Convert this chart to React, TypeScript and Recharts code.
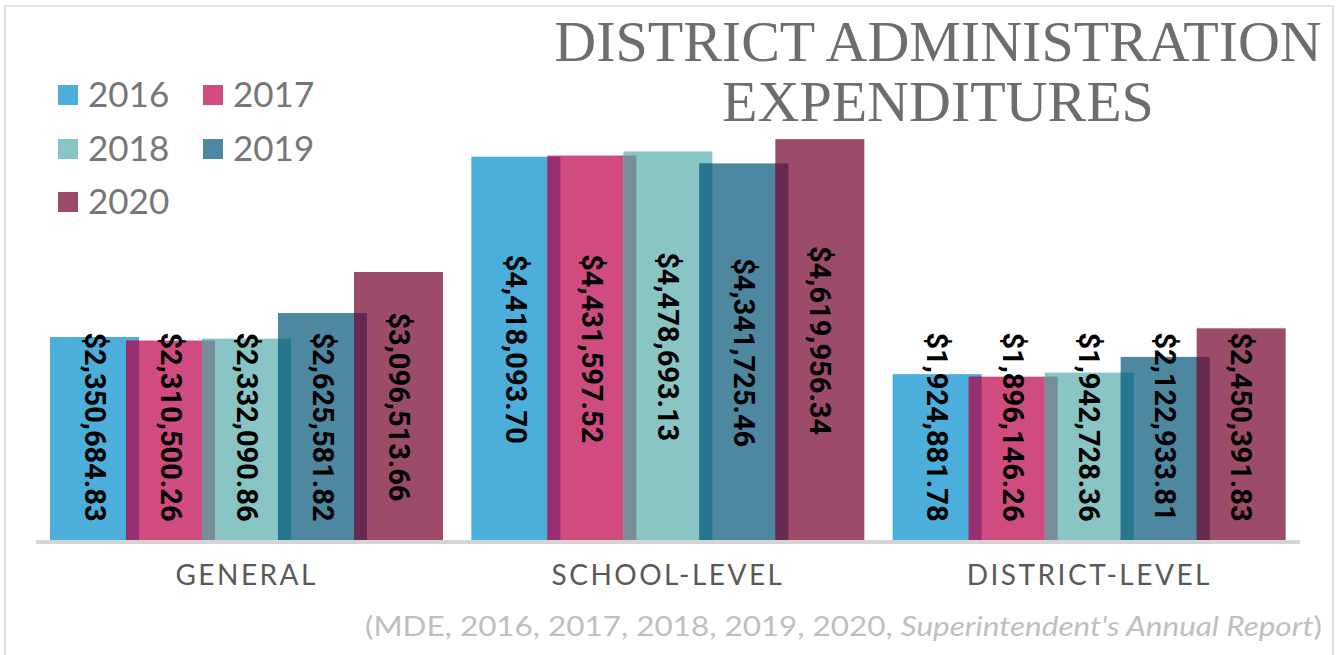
import React from 'react';
import { BarChart, Bar, XAxis, YAxis, LabelList } from 'recharts';

const categories = ['GENERAL', 'SCHOOL-LEVEL', 'DISTRICT-LEVEL'];
const years = ['2016', '2017', '2018', '2019', '2020'];
const values2016 = [2350684.83, 4418093.7, 1924881.78];
const values2017 = [2310500.26, 4431597.52, 1896146.26];
const values2018 = [2332090.86, 4478693.13, 1942728.36];
const values2019 = [2625581.82, 4341725.46, 2122933.81];
const values2020 = [3096513.66, 4619956.34, 2450391.83];
const yDomain = [0, 5000000];

const colors = ['#4BAEDB', '#D04C80', '#88C5C4', '#4D87A0', '#9C4B6A'];
// darker tone where a bar sits over the one before it
const overlapColors = ['', '#962F6F', '#778D9A', '#267690', '#66294F'];

const seriesValues = [values2016, values2017, values2018, values2019, values2020];
const data = categories.map((name, i) => {
  const row: any = { name };
  years.forEach((y, j) => {
    row[y] = seriesValues[j][i];
  });
  return row;
});

const BAR = 89;
const GAP = -13;

const makeShape = (key: string, prevKey: string | null, fill: string, dark: string) => (props: any) => {
  const { x, y, width, height, payload } = props;
  const val = payload[key];
  let strip = null;
  if (prevKey && val > 0) {
    const prevH = (payload[prevKey] / val) * height;
    const h = Math.min(height, prevH);
    strip = <rect x={x} y={y + height - h} width={-GAP} height={h} fill={dark} />;
  }
  return (
    <g>
      <rect x={x} y={y} width={width} height={height} fill={fill} />
      {strip}
    </g>
  );
};

const fmt = (v: number) =>
  '$' + v.toLocaleString('en-US', { minimumFractionDigits: 2, maximumFractionDigits: 2 });

const ValueLabel = (props: any) => {
  const { x, y, width, height, value } = props;
  const cx = x + width / 2;
  const half = 101;
  const cy = Math.min(y + height / 2, y + height - 14 - half);
  return (
    <text
      x={cx}
      y={cy}
      transform={`rotate(90, ${cx}, ${cy})`}
      textAnchor="middle"
      dominantBaseline="central"
      fontFamily="Roboto"
      fontWeight={700}
      fontSize={29}
      fill="#000"
    >
      {fmt(value)}
    </text>
  );
};

const CategoryTick = (props: any) => {
  const { x, y, payload } = props;
  return (
    <text
      x={x}
      y={y + 43}
      textAnchor="middle"
      fontFamily="Lato"
      fontSize={28}
      letterSpacing={2.5}
      fill="#595959"
    >
      {payload.value}
    </text>
  );
};

const legendPos = [
  { left: 58, top: 85 },
  { left: 203, top: 85 },
  { left: 58, top: 139 },
  { left: 203, top: 139 },
  { left: 58, top: 192 },
];

export default function App() {
  return (
    <div style={{ position: 'absolute', left: 0, top: 0, width: 1341, height: 655, background: '#fff', overflow: 'hidden' }}>
      <div style={{ position: 'absolute', left: 4, top: 5, width: 1326, height: 700, border: '2px solid #E2E2E2' }} />
      <BarChart
        width={1341}
        height={655}
        data={data}
        margin={{ top: 106, right: 41, bottom: 83, left: 36 }}
        barSize={BAR}
        barGap={GAP}
      >
        <XAxis
          dataKey="name"
          height={30}
          axisLine={{ stroke: '#D4D4D4', strokeWidth: 4 }}
          tickLine={false}
          tickSize={0}
          tickMargin={0}
          tick={<CategoryTick />}
          interval={0}
        />
        <YAxis hide domain={yDomain} />
        {years.map((yr, i) => (
          <Bar
            key={yr}
            dataKey={yr}
            fill={colors[i]}
            isAnimationActive={false}
            shape={makeShape(yr, i > 0 ? years[i - 1] : null, colors[i], overlapColors[i])}
          >
            <LabelList dataKey={yr} content={<ValueLabel />} />
          </Bar>
        ))}
      </BarChart>

      <div
        style={{
          position: 'absolute',
          left: 538,
          width: 800,
          top: 12,
          textAlign: 'center',
          fontFamily: '"Liberation Serif"',
          fontSize: 58,
          lineHeight: '60px',
          color: '#6D6D6D',
        }}
      >
        DISTRICT ADMINISTRATION
        <br />
        EXPENDITURES
      </div>

      {years.map((yr, i) => (
        <div key={yr} style={{ position: 'absolute', left: legendPos[i].left, top: legendPos[i].top }}>
          <div style={{ position: 'absolute', left: 0, top: 0, width: 20, height: 20, background: colors[i] }} />
          <div
            style={{
              position: 'absolute',
              left: 30,
              top: -14,
              fontFamily: 'Lato',
              fontSize: 35,
              lineHeight: '44px',
              color: '#767676',
              whiteSpace: 'nowrap',
            }}
          >
            {yr}
          </div>
        </div>
      ))}

      <svg style={{ position: 'absolute', left: 0, top: 0 }} width={1341} height={655} pointerEvents="none">
        <text
          x={365}
          y={636}
          textLength={957}
          lengthAdjust="spacingAndGlyphs"
          fontFamily="Lato"
          fontSize={27}
          fill="#BFBFBF"
        >
          (MDE, 2016, 2017, 2018, 2019, 2020, <tspan fontStyle="italic">Superintendent's Annual Report</tspan>)
        </text>
      </svg>
    </div>
  );
}
